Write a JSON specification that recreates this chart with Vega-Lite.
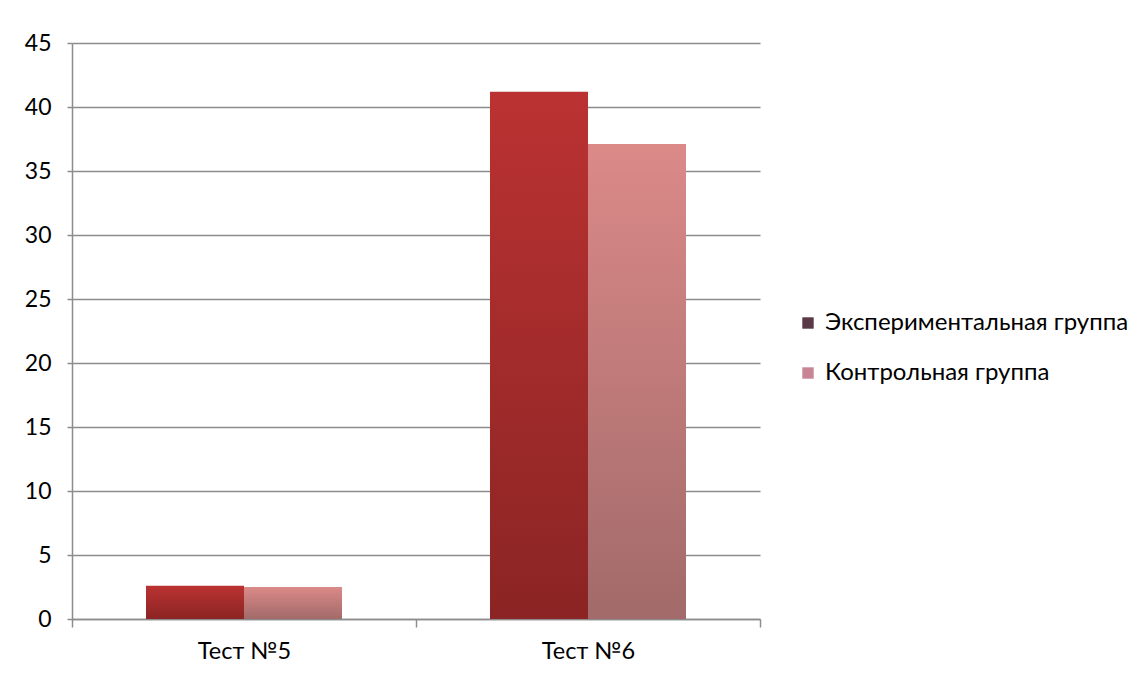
{
  "$schema": "https://vega.github.io/schema/vega-lite/v6.json",
  "width": 688,
  "height": 576,
  "autosize": {"type": "none"},
  "padding": {"left": 72, "top": 43, "right": 387, "bottom": 58},
  "background": "white",
  "config": {
    "view": {"stroke": null},
    "font": "Lato",
    "axis": {"labelFont": "Lato", "labelColor": "#000000"}
  },
  "data": {
    "values": [
      {"test": "Тест №5", "group": "Экспериментальная группа", "value": 2.6},
      {"test": "Тест №5", "group": "Контрольная группа", "value": 2.5},
      {"test": "Тест №6", "group": "Экспериментальная группа", "value": 41.2},
      {"test": "Тест №6", "group": "Контрольная группа", "value": 37.1}
    ]
  },
  "encoding": {
    "x": {
      "field": "test",
      "type": "nominal",
      "title": null,
      "scale": {"paddingInner": 0, "paddingOuter": 0},
      "axis": {
        "labelAngle": 0,
        "labelFontSize": 23.5,
        "labelPadding": 12,
        "tickBand": "extent",
        "tickSize": 8,
        "tickColor": "#8c8c8c",
        "tickWidth": 1.5,
        "domainColor": "#8c8c8c",
        "domainWidth": 1.5
      }
    },
    "xOffset": {
      "field": "group",
      "type": "nominal",
      "scale": {"domain": ["Экспериментальная группа", "Контрольная группа"], "paddingInner": 0, "paddingOuter": 0.755}
    },
    "y": {
      "field": "value",
      "type": "quantitative",
      "title": null,
      "scale": {"domain": [0, 45], "nice": false},
      "axis": {
        "values": [0, 5, 10, 15, 20, 25, 30, 35, 40, 45],
        "labelFontSize": 23,
        "labelPadding": 16,
        "tickSize": 5,
        "tickColor": "#8c8c8c",
        "tickWidth": 1.5,
        "grid": true,
        "gridColor": "#8c8c8c",
        "gridWidth": 1.5,
        "domainColor": "#8c8c8c",
        "domainWidth": 1.5
      }
    }
  },
  "layer": [
    {
      "transform": [{"filter": "datum.group === 'Экспериментальная группа'"}],
      "mark": {
        "type": "bar",
        "fill": {
          "gradient": "linear", "x1": 0, "y1": 0, "x2": 0, "y2": 1,
          "stops": [{"offset": 0, "color": "#bb3232"}, {"offset": 1, "color": "#8b2424"}]
        }
      }
    },
    {
      "transform": [{"filter": "datum.group === 'Контрольная группа'"}],
      "mark": {
        "type": "bar",
        "fill": {
          "gradient": "linear", "x1": 0, "y1": 0, "x2": 0, "y2": 1,
          "stops": [{"offset": 0, "color": "#db8a88"}, {"offset": 1, "color": "#a26a6a"}]
        }
      }
    },
    {
      "mark": {"type": "bar", "fillOpacity": 0, "strokeOpacity": 0},
      "encoding": {
        "color": {
          "field": "group",
          "type": "nominal",
          "scale": {
            "domain": ["Экспериментальная группа", "Контрольная группа"],
            "range": ["#5a3a46", "#c98494"]
          },
          "legend": {
            "title": null,
            "orient": "none",
            "legendX": 724,
            "legendY": 268,
            "symbolType": "square",
            "symbolSize": 130,
            "symbolOpacity": 1,
            "symbolStrokeWidth": 0,
            "labelFontSize": 24,
            "labelFont": "Lato",
            "labelColor": "#000000",
            "labelOffset": 5,
            "rowPadding": 26,
            "labelLimit": 400
          }
        }
      }
    }
  ]
}
